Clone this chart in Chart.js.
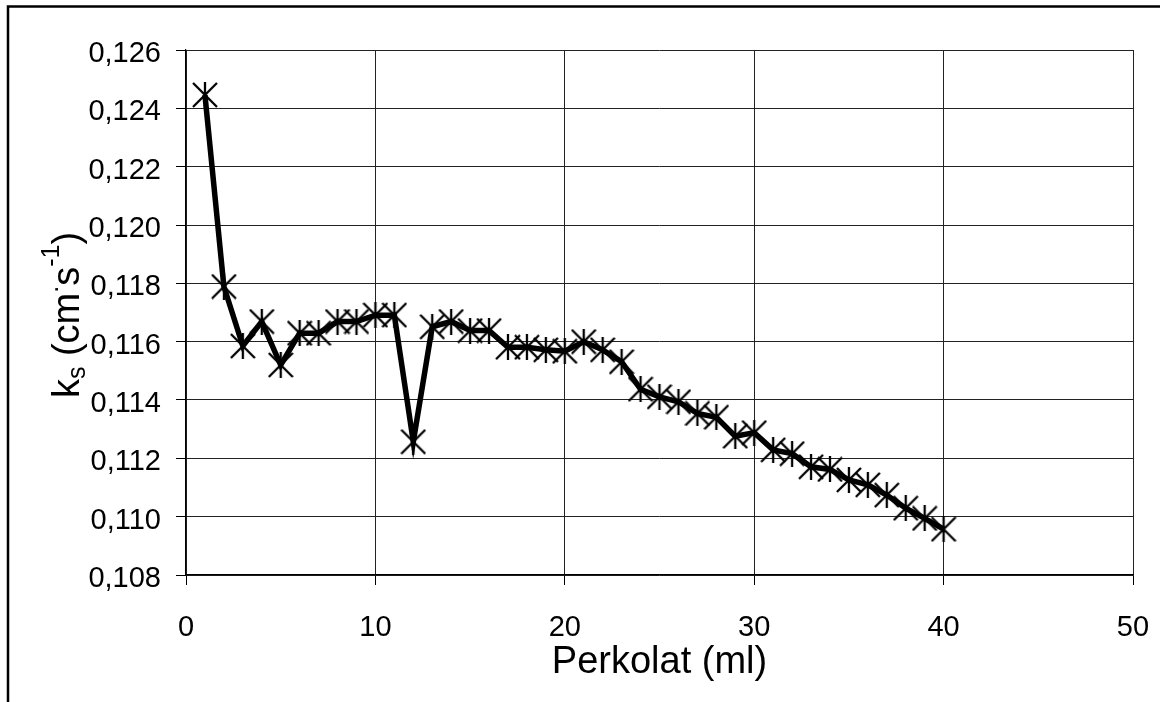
<!DOCTYPE html>
<html>
<head>
<meta charset="utf-8">
<script src="https://cdn.jsdelivr.net/npm/chart.js@4/dist/chart.umd.min.js"></script>
<style>
  html, body { margin: 0; padding: 0; background: #fff; }
  #wrap { width: 1160px; height: 702px; position: relative; }
</style>
</head>
<body>
<div id="wrap"><canvas id="ksChart"></canvas></div>
<script>
// Perkolat volume (ml)
const perkolat = [1, 2, 3, 4, 5, 6, 7, 8, 9, 10,
    11, 12, 13, 14, 15, 16, 17, 18, 19, 20,
    21, 22, 23, 24, 25, 26, 27, 28, 29, 30,
    31, 32, 33, 34, 35, 36, 37, 38, 39, 40];

// ks values (cm s-1)
const ksValues = [0.12446, 0.11789, 0.11585, 0.11669, 0.11520, 0.11629, 0.11629, 0.11669, 0.11669, 0.11691,
    0.11691, 0.11257, 0.11651, 0.11669, 0.11638, 0.11638, 0.11581, 0.11581, 0.11572, 0.11567,
    0.11600, 0.11572, 0.11531, 0.11437, 0.11411, 0.11394, 0.11354, 0.11341, 0.11276, 0.11288,
    0.11229, 0.11216, 0.11171, 0.11162, 0.11126, 0.11109, 0.11074, 0.11029, 0.10994, 0.10957];

const xTicks = [0, 10, 20, 30, 40, 50];
const yTicks = [0.108, 0.110, 0.112, 0.114, 0.116, 0.118, 0.120, 0.122, 0.124, 0.126];

const FONT = "'Liberation Sans', Arial, sans-serif";

// excel style star marker: X with a vertical bar
function starMarker() {
    const c = document.createElement("canvas");
    c.width = 26;
    c.height = 26;
    const g = c.getContext("2d");
    g.strokeStyle = "#000";
    g.lineWidth = 2.3;
    g.beginPath();
    g.moveTo(1, 1); g.lineTo(25, 25);
    g.moveTo(25, 1); g.lineTo(1, 25);
    g.moveTo(13, 0); g.lineTo(13, 26);
    g.stroke();
    return c;
}

// outer frame + y axis title with sub/superscripts
const decorations = {
    id: "decorations",
    afterDraw(chart) {
        const ctx = chart.ctx;
        ctx.save();
        ctx.strokeStyle = "#000";
        ctx.lineWidth = 2.5;
        ctx.beginPath();
        ctx.moveTo(8, 702);
        ctx.lineTo(8, 6.5);
        ctx.lineTo(1160, 6.5);
        ctx.stroke();

        const parts = [
            { t: "k", size: 38, dy: 0 },
            { t: "s", size: 25, dy: 6 },
            { t: " (cm", size: 38, dy: 0 },
            { t: ".", size: 25, dy: -21 },
            { t: "s", size: 38, dy: 0 },
            { t: "-1", size: 25, dy: -20 },
            { t: ")", size: 38, dy: 0 }
        ];
        let total = 0;
        parts.forEach(p => {
            ctx.font = p.size + "px " + FONT;
            p.w = ctx.measureText(p.t).width;
            total += p.w;
        });
        ctx.translate(79, 315);
        ctx.rotate(-Math.PI / 2);
        ctx.fillStyle = "#000";
        ctx.textBaseline = "alphabetic";
        ctx.textAlign = "left";
        let x = -total / 2;
        parts.forEach(p => {
            ctx.font = p.size + "px " + FONT;
            ctx.fillText(p.t, x, p.dy);
            x += p.w;
        });
        ctx.restore();
    }
};

const points = perkolat.map((v, i) => ({ x: v, y: ksValues[i] }));

new Chart(document.getElementById("ksChart"), {
    type: "scatter",
    data: {
        datasets: [{
            label: "ks",
            data: points,
            showLine: true,
            borderColor: "#000",
            borderWidth: 5.5,
            pointStyle: starMarker(),
            pointRadius: 12,
            pointHoverRadius: 12
        }]
    },
    options: {
        responsive: true,
        maintainAspectRatio: false,
        animation: false,
        layout: {
            padding: { top: 50, right: 27, left: 0, bottom: 0 }
        },
        plugins: {
            legend: { display: false },
            tooltip: { enabled: false }
        },
        scales: {
            x: {
                type: "linear",
                min: 0,
                max: 50,
                afterFit: s => {
                    s.height = 127;
                    s.paddingLeft = 0;
                    s.paddingRight = 0;
                },
                afterBuildTicks: s => { s.ticks = xTicks.map(v => ({ value: v })); },
                grid: { color: "#222", lineWidth: 1, tickLength: 10, tickColor: "#000" },
                border: { color: "#000", width: 1.2 },
                ticks: {
                    color: "#000",
                    padding: 26,
                    maxRotation: 0,
                    font: { family: FONT, size: 29 }
                },
                title: {
                    display: true,
                    text: "Perkolat (ml)",
                    color: "#000",
                    font: { family: FONT, size: 38 },
                    padding: { top: 0, bottom: 17 }
                }
            },
            y: {
                min: 0.108,
                max: 0.126,
                afterFit: s => { s.width = 186; },
                afterBuildTicks: s => { s.ticks = yTicks.map(v => ({ value: v })); },
                grid: { color: "#222", lineWidth: 1, tickLength: 10, tickColor: "#000" },
                border: { color: "#000", width: 1.2 },
                ticks: {
                    color: "#000",
                    padding: 15,
                    labelOffset: 4,
                    font: { family: FONT, size: 29 },
                    callback: v => v.toFixed(3).replace(".", ",")
                }
            }
        }
    },
    plugins: [decorations]
});
</script>
</body>
</html>
